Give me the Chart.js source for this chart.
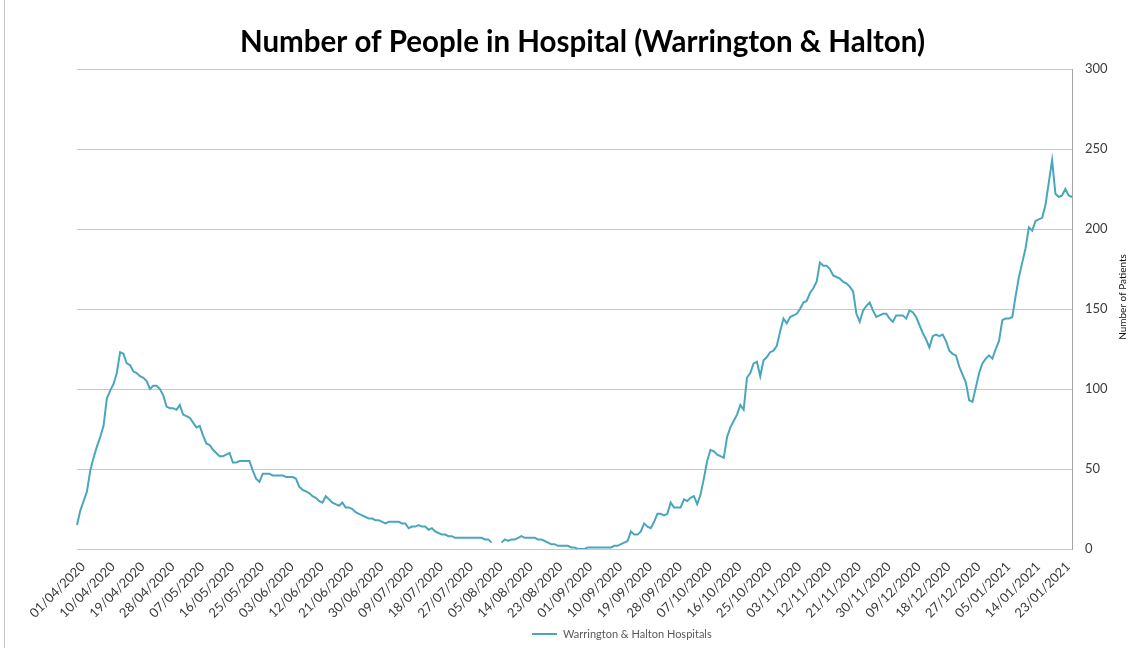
<!DOCTYPE html>
<html>
<head>
<meta charset="utf-8">
<title>Number of People in Hospital (Warrington &amp; Halton)</title>
<script src="https://cdn.jsdelivr.net/npm/chart.js@4/dist/chart.umd.min.js"></script>
<style>
  html, body { margin: 0; padding: 0; background: #ffffff; }
  #wrap { position: relative; width: 1147px; height: 648px; }
</style>
</head>
<body>
<div id="wrap"><canvas id="chart" width="1147" height="648"></canvas></div>
<script>
// Daily patients in hospital, first day 01/04/2020 (null = no figure reported)
const startDate = [2020, 4, 1];
const patients = [
  15, 24, 30, 36, 49, 57, 64, 70, 77, 94, 99, 103, 110, 123, 122,
  116, 115, 111, 110, 108, 107, 105, 100, 102, 102, 100, 96, 89, 88, 88, 87,
  90, 84, 83, 82, 79, 76, 77, 71, 66, 65, 62, 60, 58, 58, 59,
  60, 54, 54, 55, 55, 55, 55, 49, 44, 42, 47, 47, 47, 46, 46,
  46, 46, 45, 45, 45, 44, 39, 37, 36, 35, 33, 32, 30, 29, 33,
  31, 29, 28, 27, 29, 26, 26, 25, 23, 22, 21, 20, 19, 19, 18,
  18, 17, 16, 17, 17, 17, 17, 16, 16, 13, 14, 14, 15, 14, 14,
  12, 13, 11, 10, 9, 9, 8, 8, 7, 7, 7, 7, 7, 7, 7, 7, 7, 6, 6, 4,
  null, null,
  4, 6, 5, 6, 6, 7, 8, 7, 7, 7, 7, 6, 6, 5, 4, 3, 3, 2, 2, 2, 2, 1, 1, 0, 0, 0, 1, 1, 1, 1,
  1, 1, 1, 1, 2, 2, 3, 4, 5, 11, 9, 9, 11, 16, 14, 13, 17, 22, 22, 21,
  22, 29, 26, 26, 26, 31, 30, 32, 33, 28, 34, 44, 55, 62, 61, 59, 58, 57, 70, 76,
  80, 84, 90, 87, 107, 110, 116, 117, 108, 118, 120, 123, 124, 127, 136, 144, 141, 145, 146, 147,
  150, 154, 155, 160, 163, 167, 179, 177, 177, 175, 171, 170, 169, 167, 166, 164, 161, 147, 142, 149,
  152, 154, 149, 145, 146, 147, 147, 144, 142, 146, 146, 146, 144, 149, 148, 145, 140, 135, 131, 126,
  133, 134, 133, 134, 130, 124, 122, 121, 114, 109, 104, 93, 92, 101, 110, 116, 119, 121, 119, 125,
  130, 143, 144, 144, 145, 158, 170, 179, 188, 201, 199, 205, 206, 207, 215, 229, 243, 222, 220, 221,
  225, 221, 220
];
const seriesName = 'Warrington & Halton Hospitals';
const chartTitle = 'Number of People in Hospital (Warrington & Halton)';
const yAxisTitle = 'Number of Patients';
const yTicks = [0, 50, 100, 150, 200, 250, 300];
const labelEvery = 9; // a date label on every ninth day

// Build dd/mm/yyyy category labels, one per day
const dates = patients.map((_, i) => {
  const d = new Date(Date.UTC(startDate[0], startDate[1] - 1, startDate[2] + i));
  const dd = String(d.getUTCDate()).padStart(2, '0');
  const mm = String(d.getUTCMonth() + 1).padStart(2, '0');
  return dd + '/' + mm + '/' + d.getUTCFullYear();
});

const lineColor = '#4aa6bd';
const gridColor = '#c8c8c8';
const textColor = '#3a3a3a';
const fontFamily = 'Lato, "Open Sans", sans-serif';

// White background plus thin frame line on the left edge
const backdrop = {
  id: 'backdrop',
  beforeDraw(chart) {
    const ctx = chart.ctx;
    ctx.save();
    ctx.fillStyle = '#ffffff';
    ctx.fillRect(0, 0, chart.width, chart.height);
    ctx.strokeStyle = '#c8c8c8';
    ctx.lineWidth = 1;
    ctx.beginPath();
    ctx.moveTo(4.5, 0);
    ctx.lineTo(4.5, chart.height);
    ctx.stroke();
    ctx.restore();
  }
};

// Chart title centred on the canvas, axis title (reading upwards) beside the
// right-hand value axis, and the single legend entry under the date labels
const extras = {
  id: 'extras',
  afterDraw(chart) {
    const ctx = chart.ctx;
    const area = chart.chartArea;

    ctx.save();
    ctx.font = 'bold 29.5px ' + fontFamily;
    ctx.fillStyle = '#000000';
    ctx.textAlign = 'center';
    ctx.textBaseline = 'middle';
    ctx.fillText(chartTitle, chart.width / 2 + 9, 42);
    ctx.restore();

    ctx.save();
    ctx.translate(1123, (area.top + area.bottom) / 2 - 12);
    ctx.rotate(-Math.PI / 2);
    ctx.font = '10px ' + fontFamily;
    ctx.fillStyle = '#111111';
    ctx.textAlign = 'center';
    ctx.textBaseline = 'middle';
    ctx.fillText(yAxisTitle, 0, 0);
    ctx.restore();

    ctx.save();
    const ly = 634;
    ctx.strokeStyle = lineColor;
    ctx.lineWidth = 2;
    ctx.beginPath();
    ctx.moveTo(532, ly);
    ctx.lineTo(557, ly);
    ctx.stroke();
    ctx.font = '11px ' + fontFamily;
    ctx.fillStyle = '#595959';
    ctx.textAlign = 'left';
    ctx.textBaseline = 'middle';
    ctx.fillText(seriesName, 563, ly);
    ctx.restore();
  }
};

new Chart(document.getElementById('chart'), {
  type: 'line',
  data: {
    labels: dates,
    datasets: [{
      label: seriesName,
      data: patients,
      borderColor: lineColor,
      backgroundColor: lineColor,
      borderWidth: 2,
      pointRadius: 0,
      pointHoverRadius: 0,
      tension: 0,
      spanGaps: false
    }]
  },
  options: {
    responsive: false,
    animation: false,
    devicePixelRatio: 1,
    layout: { padding: { left: 77, right: 0, top: 69, bottom: 0 } },
    plugins: {
      legend: { display: false },
      tooltip: { enabled: false },
      title: { display: false }
    },
    scales: {
      x: {
        type: 'category',
        offset: false,
        grid: { display: false, drawTicks: false },
        border: { display: true, color: gridColor, width: 1 },
        ticks: {
          autoSkip: false,
          minRotation: 45,
          maxRotation: 45,
          padding: 10,
          labelOffset: 6,
          color: textColor,
          font: { family: fontFamily, size: 13 },
          callback(value, index) {
            return index % labelEvery === 0 ? dates[index] : '';
          }
        },
        afterFit(scale) { scale.height = 99; }
      },
      y: {
        position: 'right',
        min: yTicks[0],
        max: yTicks[yTicks.length - 1],
        afterBuildTicks(scale) { scale.ticks = yTicks.map(v => ({ value: v })); },
        grid: { color: gridColor, lineWidth: 1, drawTicks: false },
        border: { display: true, color: '#a6a6a6', width: 1 },
        ticks: {
          padding: 13,
          color: textColor,
          font: { family: fontFamily, size: 13 }
        },
        afterFit(scale) { scale.width = 75; }
      }
    }
  },
  plugins: [backdrop, extras]
});
</script>
</body>
</html>
